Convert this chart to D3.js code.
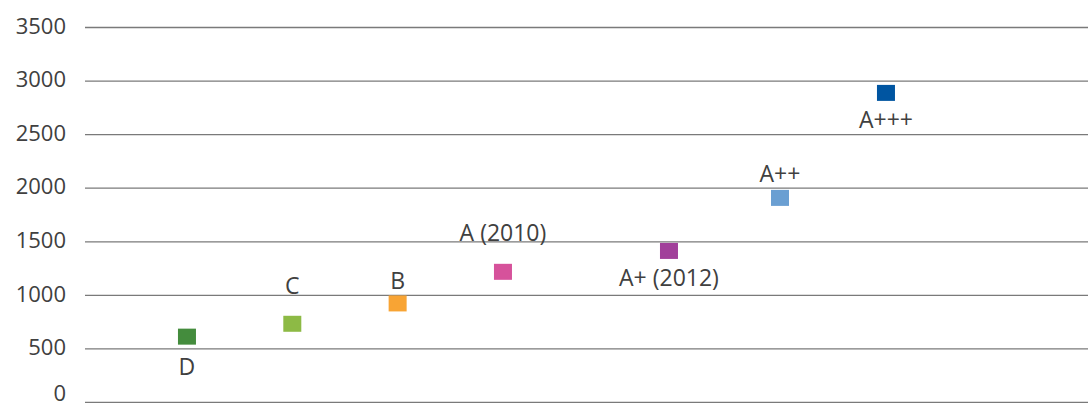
<!DOCTYPE html>
<html>
<head>
<meta charset="utf-8">
<script src="https://cdn.jsdelivr.net/npm/d3@7"></script>
<style>
  html, body { margin: 0; padding: 0; background: #fff; }
  svg { display: block; }
  text { font-family: "Open Sans", sans-serif; fill: #404040; }
</style>
</head>
<body>
<svg id="chart" width="1088" height="403"></svg>
<script>
// ---- data ----
const classes   = ["D", "C", "B", "A (2010)", "A+ (2012)", "A++", "A+++"];
const xValues   = [1, 2, 3, 4, 5.576, 6.63, 7.636];
const yValues   = [610, 730, 920, 1215, 1410, 1905, 2885];
const colors    = ["#448C3D", "#8DBA45", "#F8A434", "#D6529B", "#A1409A", "#6A9FD2", "#0055A1"];
const yTicks    = [0, 500, 1000, 1500, 2000, 2500, 3000, 3500];

// ---- layout (label offsets in px, relative to marker centre; not data) ----
const labelDy   = [38, -30, -14.7, -31, 35, -16.3, 34.7];

const W = 1088, H = 403;
const margin = { left: 85, right: 0, top: 27, bottom: 1 };
const svg = d3.select("#chart");

const x = d3.scaleLinear().domain([0.032, 9.554]).range([margin.left, W - margin.right]);
const y = d3.scaleLinear().domain([0, 3500]).range([H - margin.bottom, margin.top]);

// gridlines + tick labels via axis
const yAxis = d3.axisLeft(y)
  .tickValues(yTicks)
  .tickSize(-(W - margin.left - margin.right))
  .tickPadding(19)
  .tickFormat(d3.format("d"));

const g = svg.append("g")
  .attr("transform", `translate(${margin.left},0)`)
  .call(yAxis);
g.select(".domain").remove();
g.selectAll(".tick line").attr("stroke", "#7a7a7a").attr("stroke-width", 1.3);
g.selectAll(".tick text")
  .attr("font-size", "22px")
  .attr("font-family", "'Open Sans', sans-serif")
  .attr("fill", "#404040")
  .attr("dy", d => d === 0 ? "-0.06em" : "0.28em");

const pts = classes.map((c, i) => ({ c, x: xValues[i], y: yValues[i], color: colors[i], dy: labelDy[i] }));

const mw = 18, mh = 16;
svg.append("g").selectAll("rect").data(pts).join("rect")
  .attr("x", d => x(d.x) - mw / 2)
  .attr("y", d => y(d.y) - mh / 2)
  .attr("width", mw)
  .attr("height", mh)
  .attr("fill", d => d.color);

svg.append("g").selectAll("text").data(pts).join("text")
  .attr("x", d => x(d.x))
  .attr("y", d => y(d.y) + d.dy)
  .attr("text-anchor", "middle")
  .attr("font-size", "23px")
  .text(d => d.c);
</script>
</body>
</html>
